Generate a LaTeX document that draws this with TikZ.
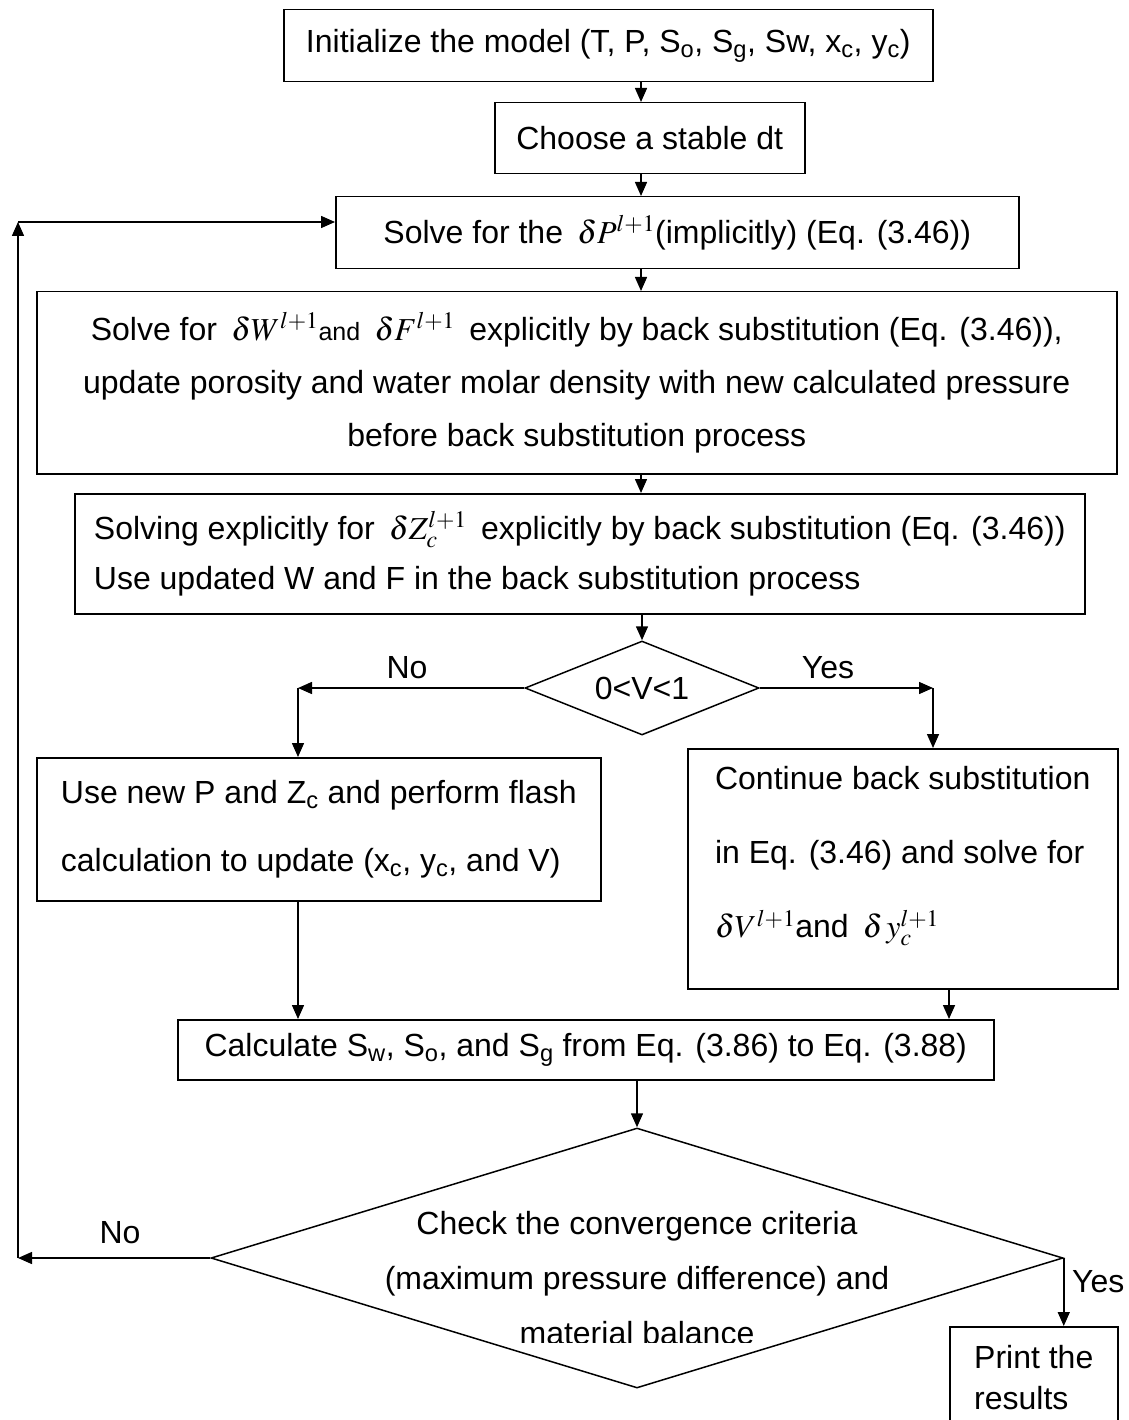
\documentclass[tikz,border=0pt]{standalone}
\usepackage{mathptmx}
\usepackage[no-math]{fontspec}
\setmainfont{Liberation Sans}
\usetikzlibrary{arrows.meta,shapes.geometric}
\begin{document}
\begin{tikzpicture}[x=1pt,y=-1pt,
  font=\fontsize{32}{37}\selectfont,
  box/.style={draw,line width=1.5pt,inner sep=0pt,anchor=north west},
  dia/.style={draw,diamond,line width=1.5pt,inner sep=0pt},
  arr/.style={-{Triangle[length=14pt,width=12pt]},line width=1.5pt},
  ln/.style={line width=1.5pt}]
\useasboundingbox (0,0) rectangle (1128,1420);
\clip (0,0) rectangle (1128,1420);
\fill[white] (0,0) rectangle (1128,1420);

\coordinate (cx) at (641,0);
\node[box,minimum width=649pt,minimum height=72pt] (b1) at (283,9)
  {Initialize the model (T, P, S\textsubscript{o}, S\textsubscript{g}, Sw, x\textsubscript{c}, y\textsubscript{c})};
\node[box,minimum width=310pt,minimum height=71pt] (b2) at (494,102) {Choose a stable dt};
\node[box,minimum width=683pt,minimum height=72pt] (b3) at (335,196)
  {Solve for the\, $\delta P^{l+1}$(implicitly) (Eq. (3.46))};
\node[box,minimum width=1080pt,minimum height=182pt,align=center] (b4) at (36,291)
  {Solve for\, $\delta W^{l+1}${\fontsize{25}{30}\selectfont and}\, $\delta F^{l+1}$\, explicitly by back substitution (Eq. (3.46)),\\[16pt]
   update porosity and water molar density with new calculated pressure\\[16pt]
   before back substitution process};
\node[box,minimum width=1010pt,minimum height=120pt,align=left] (b5) at (74,493)
  {Solving explicitly for\, $\delta Z_c^{l+1}$\, explicitly by back substitution (Eq. (3.46))\\[13pt]
   Use updated W and F in the back substitution process};
\node[dia,minimum width=234pt,minimum height=94pt] (d1) at (642,688) {};
\node (d1t) at (d1.center) {0<V<1};
\node (lno1) at (407,668) {No};
\node (lyes1) at (828,668) {Yes};
\coordinate (nL) at (298,688);
\coordinate (nR) at (933,688);
\node[box,minimum width=564pt,minimum height=143pt,align=left] (b6) at (36,757)
  {Use new P and Z\textsubscript{c} and perform flash\\[31pt]
   calculation to update (x\textsubscript{c}, y\textsubscript{c}, and V)};
\node[box,minimum width=430pt,minimum height=240pt,align=left] (b7) at (687,748)
  {Continue back substitution\\[37pt]
   in Eq. (3.46) and solve for\\[37pt]
   $\delta V^{l+1}$and\, $\delta\, y_c^{l+1}$\\[-4pt]};
\node[box,minimum width=816pt,minimum height=60pt] (b8) at (177,1019)
  {Calculate S\textsubscript{w}, S\textsubscript{o}, and S\textsubscript{g} from Eq. (3.86) to Eq. (3.88)};
\node[dia,minimum width=852pt,minimum height=260pt] (d2) at (637,1258) {};
\begin{scope}
  \clip (0,0) rectangle (1128,1342);
  \node[align=center] (d2t) at (637,1278)
    {Check the convergence criteria\\[18pt]
     (maximum pressure difference) and\\[18pt]
     material balance};
\end{scope}
\node (lno2) at (120,1233) {No};
\node[anchor=west,inner sep=0pt] (lyes2) at (1072,1282) {Yes};
\node[box,minimum width=168pt,minimum height=102pt,align=left] (pr) at (949,1326)
  {Print the\\[4pt]results};
\coordinate (fbB) at (18,1258);
\coordinate (fbT) at (18,222);

% connectors
\draw[arr] (b1.south -| cx) -- (b2.north -| cx);
\draw[arr] (b2.south -| cx) -- (b3.north -| cx);
\draw[arr] (b3.south -| cx) -- (b4.north -| cx);
\draw[arr] (b4.south -| cx) -- (b5.north -| cx);
\draw[arr] (b5.south -| d1.north) -- (d1.north);
\draw[arr] (d1.west) -- (nL);
\draw[arr] (nL) -- (nL |- b6.north);
\draw[arr] (d1.east) -- (nR);
\draw[arr] (nR) -- (nR |- b7.north);
\draw[arr] (b6.south -| nL) -- (b8.north -| nL);
\coordinate (cR) at (949,0);
\draw[arr] (b7.south -| cR) -- (b8.north -| cR);
\draw[arr] (b8.south -| d2.north) -- (d2.north);
\draw[arr] (d2.west) -- (fbB);
\draw[arr] (fbB) -- (fbT);
\draw[arr] (fbT) -- (fbT -| b3.west);
\draw[arr] (d2.east) -- (d2.east |- pr.north);
\end{tikzpicture}
\end{document}
